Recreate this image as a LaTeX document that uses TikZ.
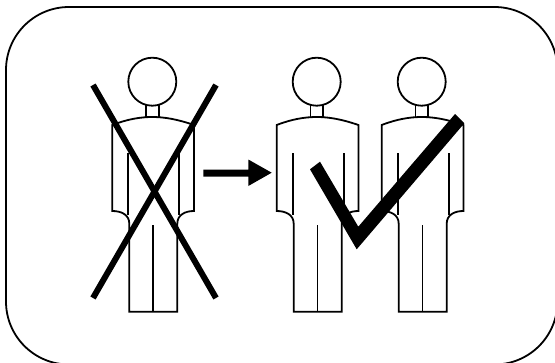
\documentclass[tikz,border=0pt]{standalone}
\tikzset{
  outline/.style={draw=black,line width=1.8pt,line join=miter},
  cross/.style={draw=black,line width=6pt},
  person/.pic={
    \draw[outline] (0,0) circle[radius=24];
    \draw[outline] (-6.3,23.3) -- (-6.3,35.5) (6.3,23.3) -- (6.3,35.5);
    \draw[outline] (-40,43.3) .. controls (-25,37.5) and (-12,35.3) .. (0,35.3)
      .. controls (12,35.3) and (25,37.5) .. (41.7,43.3)
      -- (41.7,129.3) .. controls (33,129.3) and (25,133) .. (25,142)
      -- (25,230) -- (-23,230) -- (-23,142)
      .. controls (-23,133) and (-31,129.3) .. (-40,129.3) -- cycle;
    \draw[outline] (-24,71.3) -- (-24,133) (27,71.3) -- (27,133);
    \draw[outline] (0.7,143.3) -- (0.7,230);
  }
}
\begin{document}
\begin{tikzpicture}[x=1pt,y=-1pt]
  \useasboundingbox (0,0) rectangle (555,362);
  \begin{scope}
    \clip (0,0) rectangle (555,362);
    \draw[black,line width=1.8pt,rounded corners=63pt] (6,7) rectangle (557.5,364.5);
  \end{scope}
  \pic at (152.3,81.7) {person};
  \pic at (316.7,81.7) {person};
  \pic at (421.7,81.7) {person};
  \coordinate (xa) at (93,85);
  \coordinate (xb) at (216,298);
  \coordinate (xc) at (216,85);
  \coordinate (xd) at (93,298);
  \draw[cross] (xa) -- (xb);
  \draw[cross] (xc) -- (xd);
  \fill[black] (203.3,169.5) -- (248.3,169.5) -- (248.3,159.5) -- (271.7,172.7)
    -- (248.3,186) -- (248.3,176.5) -- (203.3,176.5) -- cycle;
  \fill[black] (310,169.3) -- (320,161.7) -- (358.3,226.7) -- (455,114)
    -- (464.3,123.3) -- (356.7,249.3) -- cycle;
\end{tikzpicture}
\end{document}
